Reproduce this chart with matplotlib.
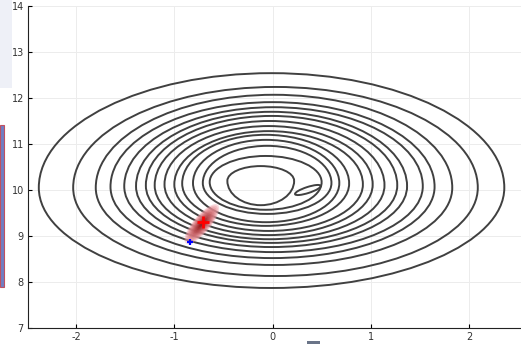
import numpy as np
import matplotlib.pyplot as plt
from matplotlib.path import Path
from matplotlib.patches import PathPatch, Ellipse, Rectangle
from matplotlib.transforms import ScaledTranslation
from matplotlib.colors import to_rgb

plt.rcParams['axes.unicode_minus'] = False

# contour extents, outermost first
left_x = [-2.38, -2.03, -1.80, -1.65, -1.51, -1.39, -1.29, -1.20, -1.10, -1.00, -0.92, -0.81, -0.71, -0.64, -0.46]
right_x = [2.36, 2.09, 1.83, 1.65, 1.53, 1.37, 1.27, 1.14, 1.02, 0.92, 0.78, 0.68, 0.60, 0.50, 0.22]
top_y = [12.54, 12.24, 12.07, 11.91, 11.80, 11.70, 11.61, 11.50, 11.39, 11.28, 11.20, 11.09, 10.96, 10.74, 10.52]
bottom_y = [7.87, 8.13, 8.37, 8.52, 8.65, 8.76, 8.85, 8.93, 9.02, 9.11, 9.22, 9.30, 9.48, 9.57, 9.67]
side_y = [10.05, 10.05, 10.05, 10.07, 10.08, 10.08, 10.10, 10.10, 10.12, 10.12, 10.14, 10.15, 10.15, 10.17, 10.20]

# small island contour near the centre
island_xy = (0.36, 10.0)

# sample cloud and markers
blob_xy = (-0.72, 9.26)
red_mark = (-0.71, 9.30)
blue_mark = (-0.84, 8.88)

xticks = [-2, -1, 0, 1, 2]
yticks = [7, 8, 9, 10, 11, 12, 13, 14]


def closed_curve(l, r, t, b, cy):
    cx = (l + r) / 2
    k = 0.5523
    verts = [(r, cy),
             (r, cy + k * (t - cy)), (cx + k * (r - cx), t), (cx, t),
             (cx - k * (cx - l), t), (l, cy + k * (t - cy)), (l, cy),
             (l, cy - k * (cy - b)), (cx - k * (cx - l), b), (cx, b),
             (cx + k * (r - cx), b), (r, cy - k * (cy - b)), (r, cy)]
    codes = [Path.MOVETO] + [Path.CURVE4] * 12
    return Path(verts, codes)


fig = plt.figure(figsize=(5.21, 3.44), dpi=100)
ax = fig.add_axes([28 / 521, 16 / 344, 493 / 521, 322 / 344])

# screenshot leftovers at the edges
fig.patches.append(Rectangle((0, 1 - 88 / 344), 12 / 521, 88 / 344, transform=fig.transFigure,
                             facecolor='#eef0f7', edgecolor='none', zorder=0))
fig.patches.append(Rectangle((0, 1 - 287 / 344), 4 / 521, 162 / 344, transform=fig.transFigure,
                             facecolor='#6f7fc4', edgecolor='#c05060', lw=0.8, zorder=0))
fig.patches.append(Rectangle((307 / 521, 0), 13 / 521, 3 / 344, transform=fig.transFigure,
                             facecolor='#6a7488', edgecolor='none', zorder=0))

for l, r, t, b, cy in zip(left_x, right_x, top_y, bottom_y, side_y):
    ax.add_patch(PathPatch(closed_curve(l, r, t, b, cy), facecolor='none',
                           edgecolor='#404040', lw=1.4, zorder=2))

ax.add_patch(Ellipse((0, 0), 0.27, 0.06, angle=18, facecolor='none', edgecolor='#404040', lw=1.4,
                     transform=fig.dpi_scale_trans + ScaledTranslation(*island_xy, ax.transData), zorder=2))

c_out = np.array(to_rgb('#f2a0a8'))
c_in = np.array(to_rgb('#8a0c0c'))
for i, s in enumerate(np.linspace(1.0, 0.15, 12)):
    f = i / 11
    ax.add_patch(Ellipse((0, 0), 0.50 * s, 0.17 * s, angle=50, facecolor=tuple(c_out * (1 - f) + c_in * f),
                         edgecolor='none', alpha=0.4,
                         transform=fig.dpi_scale_trans + ScaledTranslation(*blob_xy, ax.transData),
                         zorder=3))

ax.plot([red_mark[0]], [red_mark[1]], '+', color='red', ms=9, mew=2, zorder=4)
ax.plot([blue_mark[0]], [blue_mark[1]], '+', color='blue', ms=5, mew=1.6, zorder=4)

ax.set_xlim(-2.49, 2.53)
ax.set_ylim(7, 14)
ax.set_xticks(xticks)
ax.set_yticks(yticks)
ax.grid(True, color='#ececec', lw=0.7)
ax.set_axisbelow(True)
for side in ['top', 'right']:
    ax.spines[side].set_visible(False)
ax.spines['left'].set_color('#222222')
ax.spines['bottom'].set_color('#222222')
ax.tick_params(direction='in', length=3, width=0.8, labelsize=7, labelcolor='#333333', pad=3)

plt.savefig('out.png', dpi=100)
